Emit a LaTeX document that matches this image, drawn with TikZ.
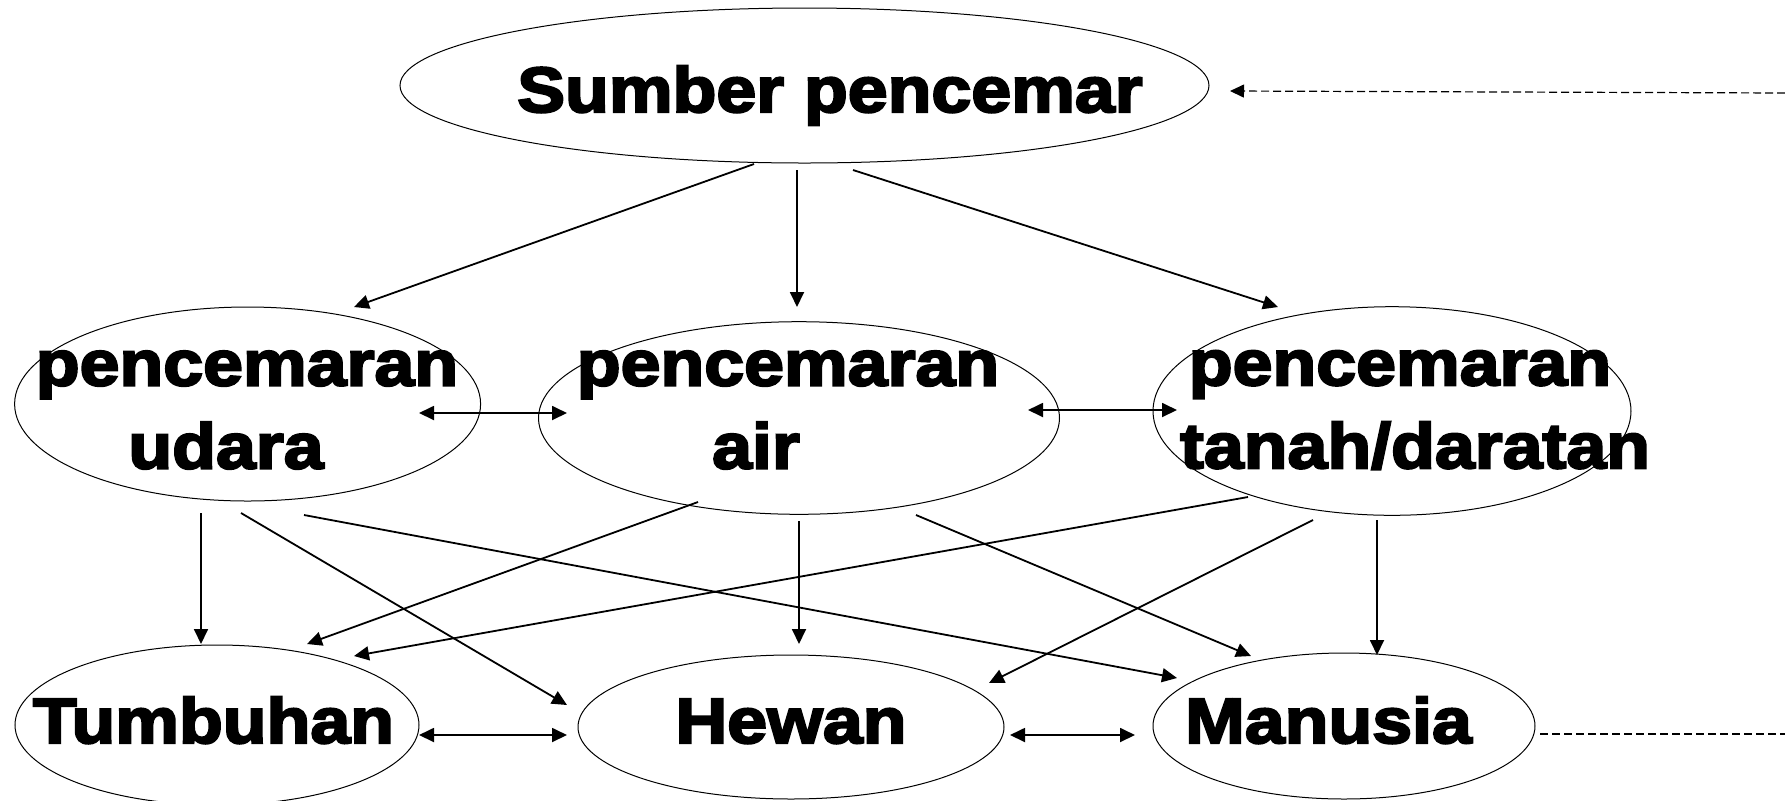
\documentclass[tikz,border=0pt]{standalone}
\usepackage{fontspec}
\newfontfamily\heavyfont{Liberation Sans}[BoldFeatures={FakeBold=3.5,FakeStretch=1.12}]
\usetikzlibrary{shapes.geometric,arrows.meta,calc}
\tikzset{
        oval/.style={ellipse, draw, line width=0.5pt, inner sep=0pt},
        txt/.style={font=\heavyfont\bfseries\fontsize{32}{41.5}\selectfont, inner sep=0pt, align=center},
        link/.style={line width=0.9pt, -{Triangle[length=7.5pt,width=7pt]}},
        both/.style={line width=0.9pt, {Triangle[length=7.5pt,width=7pt]}-{Triangle[length=7.5pt,width=7pt]}},
        back/.style={line width=0.6pt, dash pattern=on 4pt off 2pt}
}
\begin{document}
\begin{tikzpicture}[x=0.5pt,y=-0.5pt]
        \clip (0,0) rectangle (1785,800);
        \node[oval, minimum width=404.5pt, minimum height=77.5pt] (sumber) at (804.5,85.5) {};
        \node[oval, minimum width=233pt, minimum height=97pt] (udara) at (247.6,404) {};
        \node[oval, minimum width=260.5pt, minimum height=96.3pt] (air) at (799,418) {};
        \node[oval, minimum width=239pt, minimum height=104.3pt] (tanah) at (1392,411) {};
        \node[oval, minimum width=202pt, minimum height=80pt] (tumbuhan) at (217,725) {};
        \node[oval, minimum width=213pt, minimum height=72pt] (hewan) at (791,727) {};
        \node[oval, minimum width=191pt, minimum height=73pt] (manusia) at (1344,726) {};
        \node[txt, anchor=base] (sumbertxt) at (830,112) {Sumber pencemar};
        \node[txt] (udaratxt) at (247,410) {pencemaran\\udara\hspace*{21pt}};
        \node[txt] (airtxt) at (788,410) {pencemaran\\air\hspace*{32pt}};
        \node[txt] (tanahtxt) at (1415,410) {pencemaran\hspace*{15pt}\\tanah/daratan};
        \node[txt, anchor=base] (tumbuhantxt) at (213.5,743) {Tumbuhan};
        \node[txt, anchor=base] (hewantxt) at (791,743) {Hewan};
        \node[txt, anchor=base] (manusiatxt) at (1328.5,743) {Manusia};
        \coordinate (back1) at (1785,93);
        \coordinate (back2) at (1785,734);
        \draw[link] ($(sumber)+(-50.5,78.5)$) -- ($(udara)+(106.4,-97)$);
        \draw[link] ($(sumber)+(-7.5,84.5)$) -- ($(air)+(-2,-111)$);
        \draw[link] ($(sumber)+(48.5,84.5)$) -- ($(tanah)+(-114,-104)$);
        \draw[both] ($(udara)+(171.4,9)$) -- ($(air)+(-232,-5)$);
        \draw[both] ($(air)+(229,-8)$) -- ($(tanah)+(-215,-1)$);
        \draw[link] ($(udara)+(-46.6,109)$) -- ($(tumbuhan)+(-16,-81)$);
        \draw[link] ($(udara)+(-6.6,109)$) -- ($(hewan)+(-224,-22)$);
        \draw[link] ($(udara)+(56.4,111)$) -- ($(manusia)+(-167,-48)$);
        \draw[link] ($(air)+(-101,84)$) -- ($(tumbuhan)+(90,-81)$);
        \draw[link] ($(air)+(0,103)$) -- ($(hewan)+(8,-83)$);
        \draw[link] ($(air)+(117,97)$) -- ($(manusia)+(-93,-70)$);
        \draw[link] ($(tanah)+(-144,86)$) -- ($(tumbuhan)+(137,-69)$);
        \draw[link] ($(tanah)+(-79,109)$) -- ($(hewan)+(198,-44)$);
        \draw[link] ($(tanah)+(-15,109)$) -- ($(manusia)+(33,-71)$);
        \draw[both] ($(tumbuhan)+(202,10)$) -- ($(hewan)+(-224,8)$);
        \draw[both] ($(hewan)+(219,8)$) -- ($(manusia)+(-209,9)$);
        \draw[back, -{Triangle[length=7pt,width=6.5pt]}] (back1) -- ($(sumber)+(425.5,5.5)$);
        \draw[back] ($(manusia)+(196,8)$) -- (back2);
\end{tikzpicture}
\end{document}
